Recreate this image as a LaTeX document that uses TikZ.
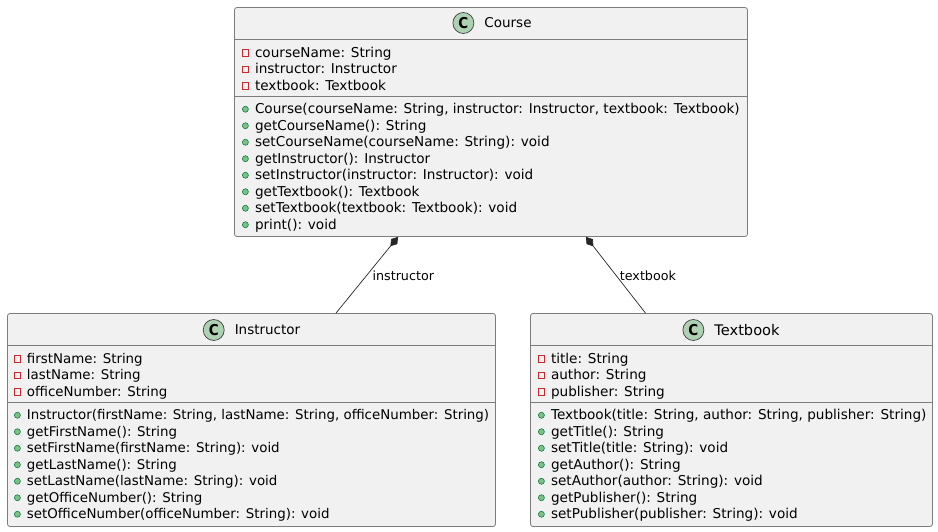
\documentclass[tikz,border=0pt]{standalone}
\usepackage{fontspec}
\setmainfont{DejaVu Sans}
\newfontfamily\spotfont{DejaVu Sans Condensed}
\usetikzlibrary{arrows.meta, positioning}
\definecolor{boxfill}{HTML}{F1F1F1}
\definecolor{boxline}{HTML}{7C7C7C}
\definecolor{spotfill}{HTML}{ADD1B2}
\definecolor{privred}{HTML}{C82930}
\definecolor{pubgreen}{HTML}{038048}
\definecolor{pubfill}{HTML}{84BE84}
\newcommand{\rowpt}{13.6}

\begin{document}
\begin{tikzpicture}[
          x=1pt, y=-1pt,
          node distance=10pt,
          box/.style={rectangle, draw=boxline, fill=boxfill, line width=0.8pt,
                      rounded corners=2.5pt, inner sep=0pt},
          rule/.style={draw=boxline, line width=0.8pt},
          title/.style={font=\fontsize{13.5}{16}\selectfont, inner sep=0pt},
          spot/.style={circle, draw=black!75, fill=spotfill, line width=0.7pt,
                       minimum size=21pt, inner sep=0pt,
                       font=\spotfont\fontsize{15}{16}\bfseries\selectfont},
          row/.style={anchor=north west, inner sep=0pt, outer sep=0pt,
                      text height=12.6pt, text depth=3.9pt,
                      font=\fontsize{\rowpt}{16}\selectfont},
          privmark/.style={rectangle, draw=privred, line width=0.7pt, minimum size=6.5pt,
                           inner sep=0pt},
          pubmark/.style={circle, draw=pubgreen, fill=pubfill, line width=0.6pt,
                          minimum size=6pt, inner sep=0pt},
          attr/.style={row, label={[privmark, label distance=6pt]left:{}}},
          meth/.style={row, label={[pubmark, label distance=6.3pt]left:{}}},
          under/.style={below=0pt of #1.south west, anchor=north west},
          comp/.style={-{Diamond[length=12pt, width=8pt]}, line width=0.7pt, black!85},
          lab/.style={font=\fontsize{12.7}{14}\selectfont, inner sep=0pt, anchor=west, text=black},
        ]
          \useasboundingbox (0,0) rectangle (938,532);

          % Course
          \node[box, minimum width=513pt, minimum height=229pt] (course) at (491,122) {};
          \draw[rule] ([yshift=-32pt]course.north west) -- ([yshift=-32pt]course.north east);
          \draw[rule] ([yshift=-89pt]course.north west) -- ([yshift=-89pt]course.north east);
          \node[title] (coursetitle) at (508,23) {Course};
          \node[spot, left=of coursetitle] (coursespot) {C};
          \node[attr] (ca1) at (255,44.5) {courseName: String};
          \node[attr, under=ca1] (ca2) {instructor: Instructor};
          \node[attr, under=ca2] (ca3) {textbook: Textbook};
          \node[meth] (cm1) at (255,101) {Course(courseName: String, instructor: Instructor, textbook: Textbook)};
          \node[meth, under=cm1] (cm2) {getCourseName(): String};
          \node[meth, under=cm2] (cm3) {setCourseName(courseName: String): void};
          \node[meth, under=cm3] (cm4) {getInstructor(): Instructor};
          \node[meth, under=cm4] (cm5) {setInstructor(instructor: Instructor): void};
          \node[meth, under=cm5] (cm6) {getTextbook(): Textbook};
          \node[meth, under=cm6] (cm7) {setTextbook(textbook: Textbook): void};
          \node[meth, under=cm7] (cm8) {print(): void};

          % Instructor
          \renewcommand{\rowpt}{13.38}
          \node[box, minimum width=488pt, minimum height=213pt] (instructor) at (251.5,420) {};
          \draw[rule] ([yshift=-32pt]instructor.north west) -- ([yshift=-32pt]instructor.north east);
          \draw[rule] ([yshift=-89pt]instructor.north west) -- ([yshift=-89pt]instructor.north east);
          \node[title] (instructortitle) at (267.5,330) {Instructor};
          \node[spot, left=of instructortitle] (instructorspot) {C};
          \node[attr] (ia1) at (27,350.5) {firstName: String};
          \node[attr, under=ia1] (ia2) {lastName: String};
          \node[attr, under=ia2] (ia3) {officeNumber: String};
          \node[meth] (im1) at (27,407) {Instructor(firstName: String, lastName: String, officeNumber: String)};
          \node[meth, under=im1] (im2) {getFirstName(): String};
          \node[meth, under=im2] (im3) {setFirstName(firstName: String): void};
          \node[meth, under=im3] (im4) {getLastName(): String};
          \node[meth, under=im4] (im5) {setLastName(lastName: String): void};
          \node[meth, under=im5] (im6) {getOfficeNumber(): String};
          \node[meth, under=im6] (im7) {setOfficeNumber(officeNumber: String): void};

          % Textbook
          \renewcommand{\rowpt}{13.6}
          \node[box, minimum width=402pt, minimum height=213pt] (textbook) at (731.5,420) {};
          \draw[rule] ([yshift=-32pt]textbook.north west) -- ([yshift=-32pt]textbook.north east);
          \draw[rule] ([yshift=-89pt]textbook.north west) -- ([yshift=-89pt]textbook.north east);
          \node[title, font=\fontsize{14.6}{16}\selectfont] (textbooktitle) at (747,330) {Textbook};
          \node[spot, left=of textbooktitle] (textbookspot) {C};
          \node[attr] (ta1) at (551,350.5) {title: String};
          \node[attr, under=ta1] (ta2) {author: String};
          \node[attr, under=ta2] (ta3) {publisher: String};
          \node[meth] (tm1) at (551,407) {Textbook(title: String, author: String, publisher: String)};
          \node[meth, under=tm1] (tm2) {getTitle(): String};
          \node[meth, under=tm2] (tm3) {setTitle(title: String): void};
          \node[meth, under=tm3] (tm4) {getAuthor(): String};
          \node[meth, under=tm4] (tm5) {setAuthor(author: String): void};
          \node[meth, under=tm5] (tm6) {getPublisher(): String};
          \node[meth, under=tm6] (tm7) {setPublisher(publisher: String): void};

          \draw[comp] ([xshift=84.5pt]instructor.north) -- node[lab, pos=0.52, xshift=4pt, yshift=-2pt]{instructor} ([xshift=-93pt]course.south);
          \draw[comp] ([xshift=-86pt]textbook.north) -- node[lab, pos=0.52, xshift=5pt, yshift=-2pt]{textbook} ([xshift=95pt]course.south);
        \end{tikzpicture}
\end{document}
